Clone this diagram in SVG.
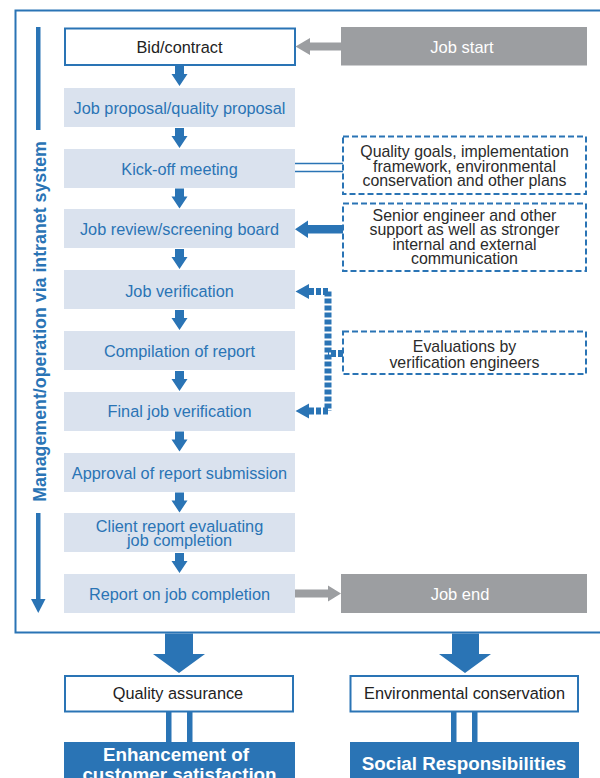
<svg xmlns="http://www.w3.org/2000/svg" width="600" height="778" viewBox="0 0 600 778">
  <defs>
    <style>
      .step { fill: #dae2ee; }
      .step-t { font-family: "Liberation Sans", Arial, sans-serif; font-size: 16.3px; fill: #2a74b5; text-anchor: middle; }
      .plain { fill: #ffffff; stroke: #2a74b5; stroke-width: 2; }
      .plain-t { font-family: "Liberation Sans", Arial, sans-serif; font-size: 16.3px; fill: #222222; text-anchor: middle; }
      .grey { fill: #9c9ea1; }
      .grey-t { font-family: "Liberation Sans", Arial, sans-serif; font-size: 16.5px; fill: #ffffff; text-anchor: middle; }
      .note { fill: #ffffff; stroke: #2a74b5; stroke-width: 2; stroke-dasharray: 6 3; }
      .note-t { font-family: "Liberation Sans", Arial, sans-serif; font-size: 15.9px; fill: #2b2b2b; text-anchor: middle; }
      .result { fill: #2a74b5; }
      .result-t { font-family: "Liberation Sans", Arial, sans-serif; font-weight: bold; fill: #ffffff; text-anchor: middle; font-size: 18.8px; }
      .blue { fill: #2a74b5; }
      .down { fill: #2a74b5; }
    </style>
    <!-- small down arrow between steps -->
    <path id="dn" d="M-4.5,0 H4.5 V8 H8 L0,20 L-8,8 H-4.5 Z"/>
  </defs>

  <!-- outer frame (open to the right) -->
  <path d="M601,10.5 H15.5 V632.5 H601" fill="none" stroke="#2a74b5" stroke-width="2"/>

  <!-- side axis -->
  <g id="axis">
    <rect x="36" y="27" width="4.5" height="103" class="blue"/>
    <rect x="36" y="513" width="4.5" height="88" class="blue"/>
    <path d="M31,599 H45.5 L38.25,613 Z" class="blue"/>
    <text transform="translate(45.5,321.5) rotate(-90)" font-family="Liberation Sans, Arial, sans-serif" font-size="17.8" font-weight="bold" fill="#2a74b5" text-anchor="middle">Management/operation via intranet system</text>
  </g>

  <!-- process steps -->
  <g id="bid">
    <rect x="65" y="28.5" width="230" height="36.5" class="plain"/>
    <text x="179.5" y="52.5" class="plain-t">Bid/contract</text>
  </g>
  <g id="proposal">
    <rect x="64" y="88" width="231" height="39" class="step"/>
    <text x="179.5" y="113.5" class="step-t">Job proposal/quality proposal</text>
  </g>
  <g id="kickoff">
    <rect x="64" y="149" width="231" height="39" class="step"/>
    <text x="179.5" y="174.5" class="step-t">Kick-off meeting</text>
  </g>
  <g id="review">
    <rect x="64" y="209" width="231" height="39" class="step"/>
    <text x="179.5" y="235" class="step-t">Job review/screening board</text>
  </g>
  <g id="verification">
    <rect x="64" y="270" width="231" height="39" class="step"/>
    <text x="179.5" y="297" class="step-t">Job verification</text>
  </g>
  <g id="compilation">
    <rect x="64" y="331" width="231" height="39" class="step"/>
    <text x="179.5" y="357" class="step-t">Compilation of report</text>
  </g>
  <g id="final">
    <rect x="64" y="392" width="231" height="39" class="step"/>
    <text x="179.5" y="417" class="step-t">Final job verification</text>
  </g>
  <g id="approval">
    <rect x="64" y="453" width="231" height="39" class="step"/>
    <text x="179.5" y="478.5" class="step-t">Approval of report submission</text>
  </g>
  <g id="client">
    <rect x="64" y="513" width="231" height="39" class="step"/>
    <text x="179.5" y="531.5" class="step-t">Client report evaluating</text>
    <text x="179.5" y="546" class="step-t">job completion</text>
  </g>
  <g id="report">
    <rect x="64" y="574" width="231" height="39" class="step"/>
    <text x="179.5" y="599.5" class="step-t">Report on job completion</text>
  </g>

  <!-- start / end -->
  <g id="job-start">
    <rect x="341" y="27" width="246" height="38.5" class="grey"/>
    <text x="462" y="52.5" class="grey-t">Job start</text>
  </g>
  <g id="job-end">
    <rect x="341" y="574" width="246" height="39" class="grey"/>
    <text x="460" y="600" class="grey-t">Job end</text>
  </g>

  <!-- supporting notes -->
  <g id="note-plans">
    <rect x="343" y="136.5" width="243" height="57.5" class="note"/>
    <text x="464.5" y="157" class="note-t">Quality goals, implementation</text>
    <text x="464.5" y="171.5" class="note-t">framework, environmental</text>
    <text x="464.5" y="186" class="note-t">conservation and other plans</text>
  </g>
  <g id="note-support">
    <rect x="343" y="203.5" width="243" height="67.5" class="note"/>
    <text x="464.5" y="220.5" class="note-t">Senior engineer and other</text>
    <text x="464.5" y="235" class="note-t">support as well as stronger</text>
    <text x="464.5" y="249.5" class="note-t">internal and external</text>
    <text x="464.5" y="264" class="note-t">communication</text>
  </g>
  <g id="note-eval">
    <rect x="343" y="331.5" width="243" height="42.5" class="note"/>
    <text x="464.5" y="351.5" class="note-t">Evaluations by</text>
    <text x="464.5" y="367.5" class="note-t">verification engineers</text>
  </g>

  <!-- outcomes -->
  <g id="quality">
    <rect x="65" y="676" width="228" height="35.5" class="plain"/>
    <text x="178" y="699" class="plain-t" font-size="15.4">Quality assurance</text>
  </g>
  <g id="environment">
    <rect x="350.5" y="676" width="227.5" height="35.5" class="plain"/>
    <text x="464.5" y="699" class="plain-t" font-size="15.4">Environmental conservation</text>
  </g>
  <g id="satisfaction">
    <rect x="64" y="742" width="231" height="40" class="result"/>
    <text x="176" y="761" class="result-t">Enhancement of</text>
    <text x="179.5" y="780.5" class="result-t">customer satisfaction</text>
  </g>
  <g id="social">
    <rect x="350" y="742" width="229" height="40" class="result"/>
    <text x="464" y="770" class="result-t">Social Responsibilities</text>
  </g>

  <!-- connectors -->
  <g id="connectors">
    <!-- step to step -->
    <use href="#dn" x="179.5" y="66" class="down"/>
    <use href="#dn" x="179.5" y="128" class="down"/>
    <use href="#dn" x="179.5" y="188.5" class="down"/>
    <use href="#dn" x="179.5" y="249" class="down"/>
    <use href="#dn" x="179.5" y="310" class="down"/>
    <use href="#dn" x="179.5" y="371" class="down"/>
    <use href="#dn" x="179.5" y="431.5" class="down"/>
    <use href="#dn" x="179.5" y="492.5" class="down"/>
    <use href="#dn" x="179.5" y="553" class="down"/>

    <!-- job start into bid -->
    <path d="M341,42.5 V50.5 H310 V55 L295.5,46.5 L310,38 V42.5 Z" fill="#9c9ea1"/>
    <!-- report into job end -->
    <path d="M295,589.5 H328 V585.5 L341,593.5 L328,601.5 V597.5 H295 Z" fill="#9c9ea1"/>

    <!-- kick-off to plans: hollow bar -->
    <path d="M295,163.5 H343 M295,171.5 H343" stroke="#2a74b5" stroke-width="1.6" fill="none"/>

    <!-- support into review -->
    <path d="M343,225 V233.5 H308 V238 L295,229.25 L308,220.5 V225 Z" class="blue"/>

    <!-- evaluation feedback (dotted) -->
    <path d="M343,353.5 H328 M328,291.5 V411 M328,291.5 H309 M328,411 H309" fill="none" stroke="#2a74b5" stroke-width="7" stroke-dasharray="5 2"/>
    <path d="M309,284 V299 L295.5,291.5 Z" class="blue"/>
    <path d="M309,403.5 V418.5 L295.5,411 Z" class="blue"/>

    <!-- frame to outcomes -->
    <path d="M165,633.5 H193 V654 H205 L179,673 L153,654 H165 Z" class="blue"/>
    <path d="M452,633.5 H479 V654 H491 L465,673 L439,654 H452 Z" class="blue"/>

    <!-- outcomes to results: double bars -->
    <rect x="166" y="712" width="5.5" height="30" class="blue"/>
    <rect x="187" y="712" width="5.5" height="30" class="blue"/>
    <rect x="451" y="712" width="5.5" height="30" class="blue"/>
    <rect x="472" y="712" width="5.5" height="30" class="blue"/>
  </g>
</svg>
